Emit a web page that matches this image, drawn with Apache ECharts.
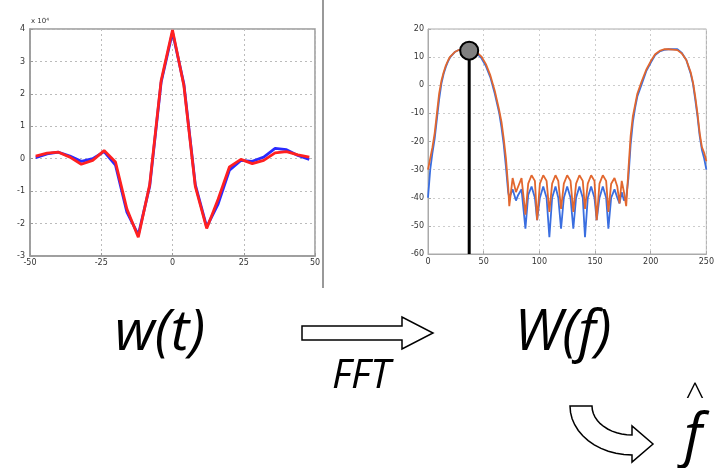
<!DOCTYPE html>
<html><head><meta charset="utf-8">
<script src="https://cdn.jsdelivr.net/npm/echarts@6/dist/echarts.min.js"></script>
<style>html,body{margin:0;padding:0;background:#fff}#c{width:717px;height:468px}</style>
</head><body><div id="c"></div>
<script>
// ---- time-domain window w(t) ----
const timeT = [-48,-44,-40,-36,-32,-28,-24,-20,-16,-12,-8,-4,0,4,8,12,16,20,24,28,32,36,40,44,48];
const wRed  = [0.08,0.17,0.2,0.05,-0.17,-0.05,0.25,-0.1,-1.55,-2.42,-0.8,2.4,3.97,2.25,-0.85,-2.15,-1.25,-0.25,-0.02,-0.15,-0.05,0.18,0.22,0.12,0.05];
const wBlue = [0.03,0.15,0.2,0.08,-0.08,0.0,0.22,-0.2,-1.65,-2.35,-0.85,2.35,3.9,2.3,-0.8,-2.1,-1.4,-0.35,-0.05,-0.08,0.05,0.32,0.28,0.1,-0.02];
const tTicks = [-50,-25,0,25,50];

// ---- spectrum W(f) in dB ----
const freq = [0,2,4,6,8,10,12,14,16,18,20,24,28,32,36,40,44,48,52,56,60,64,66,68,70,72,73,
  76,79,81,84,87.5,90,93,96,98,100.5,103.5,106.5,109,111.5,114.5,117,119.5,122,125,128,130.5,133,136,139,141,143.5,146.5,149.5,151.5,154,157,160,162,164.5,167.5,170,172,174,176,178,
  180,182,184,186,188,192,196,200,204,208,212,216,220,224,228,232,236,238,240,242,244,246,248,250];
const WRed = [-30,-26,-22,-17,-10,-3,1.5,4.5,7,8.8,10.2,11.8,12.6,12.8,12.8,12.5,11.7,10.2,7.5,3.5,-2,-9,-13,-19,-26,-36,-43,
  -33,-38,-36,-33,-46,-35,-32,-34,-48,-35,-32,-34,-45,-35,-32,-34,-44,-35,-32,-34,-45,-35,-32,-34,-44,-35,-32,-34,-48,-35,-32,-34,-45,-35,-33,-36,-42,-34,-38,-43,
  -30,-18,-11,-7,-3,1.5,5.5,8.5,11,12.2,12.8,12.8,12.7,12.5,11.3,9,4.5,1,-4,-10,-17,-22,-24,-27];
const WBlue = [-40,-30,-24,-19,-12,-5,0.5,4,6.5,8.5,10,11.8,12.6,12.8,12.8,12.3,11.3,9.6,6.8,2.8,-3,-10,-15,-21,-29,-38,-40,
  -37,-41,-39,-37,-51,-39,-36,-40,-48,-40,-36,-40,-54,-40,-36,-40,-51,-40,-36,-40,-51,-40,-36,-40,-54,-40,-36,-40,-48,-40,-36,-40,-51,-40,-37,-40,-42,-38,-41,-40,
  -33,-21,-13,-8,-4,0.5,5,8,10.7,12,12.6,12.8,12.8,12.8,11.5,9,4,0.5,-5,-11,-18,-23,-26,-30];
const fTicks = [0,50,100,150,200,250];
const markerF = 37, markerW = 12.3;

const pairs = (xs, ys) => xs.map((x, i) => [x, ys[i]]);

// decorative hollow arrows
const straightArrow = [[302,326],[402,326],[402,317],[433,333],[402,349],[402,340],[302,340]];
const curved = [];
for (let k = 0; k <= 12; k++) { const a = k / 12 * Math.PI / 2; curved.push([632 - 62 * Math.cos(a), 406 + 49 * Math.sin(a)]); }
curved.push([632, 462], [653, 444], [632, 426]);
for (let k = 12; k >= 0; k--) { const a = k / 12 * Math.PI / 2; curved.push([632 - 40 * Math.cos(a), 406 + 29 * Math.sin(a)]); }

const lbl = { fontSize: 8, color: '#333', fontFamily: 'DejaVu Sans' };
const chart = echarts.init(document.getElementById('c'), null, { renderer: 'canvas' });
chart.setOption({
  backgroundColor: '#fff',
  animation: false,
  grid: [
    { left: 30, top: 29, width: 285, height: 227, show: true, borderColor: '#999', borderWidth: 1.5, backgroundColor: 'transparent' },
    { left: 428, top: 29, width: 285, height: 225, show: true, borderColor: '#aaa', borderWidth: 1, backgroundColor: 'transparent' }
  ],
  xAxis: [
    { gridIndex: 0, type: 'value', min: -50, max: 50, interval: 25,
      axisLine: { onZero: false, lineStyle: { color: '#999', width: 1.5 } }, axisTick: { inside: true, length: 3, lineStyle: { color: '#999' } },
      axisLabel: Object.assign({ margin: 3, formatter: v => tTicks.includes(v) ? String(v) : '' }, lbl),
      splitLine: { show: true, lineStyle: { type: [2, 3], color: '#bbb' } } },
    { gridIndex: 1, type: 'value', min: 0, max: 250, interval: 50,
      axisLine: { onZero: false, lineStyle: { color: '#aaa' } }, axisTick: { inside: true, length: 3, lineStyle: { color: '#aaa' } },
      axisLabel: Object.assign({ margin: 4, formatter: v => fTicks.includes(v) ? String(v) : '' }, lbl),
      splitLine: { show: true, lineStyle: { type: [2, 3], color: '#ccc' } } }
  ],
  yAxis: [
    { gridIndex: 0, type: 'value', min: -3, max: 4, interval: 1,
      axisLine: { onZero: false, lineStyle: { color: '#999', width: 1.5 } }, axisTick: { inside: true, length: 3, lineStyle: { color: '#999' } },
      axisLabel: Object.assign({ margin: 5 }, lbl),
      splitLine: { show: true, lineStyle: { type: [2, 3], color: '#bbb' } } },
    { gridIndex: 1, type: 'value', min: -60, max: 20, interval: 10,
      axisLine: { onZero: false, lineStyle: { color: '#aaa' } }, axisTick: { inside: true, length: 3, lineStyle: { color: '#aaa' } },
      axisLabel: Object.assign({ margin: 4 }, lbl),
      splitLine: { show: true, lineStyle: { type: [2, 3], color: '#ccc' } } }
  ],
  series: [
    { type: 'line', xAxisIndex: 0, yAxisIndex: 0, data: pairs(timeT, wBlue), symbol: 'none', lineStyle: { color: '#2a2aff', width: 2.8 } },
    { type: 'line', xAxisIndex: 0, yAxisIndex: 0, data: pairs(timeT, wRed), symbol: 'none', lineStyle: { color: '#ff2020', width: 2.8 } },
    { type: 'line', xAxisIndex: 1, yAxisIndex: 1, data: pairs(freq, WBlue), symbol: 'none', lineStyle: { color: '#3a6ee0', width: 1.8 } },
    { type: 'line', xAxisIndex: 1, yAxisIndex: 1, data: pairs(freq, WRed), symbol: 'none', lineStyle: { color: '#e2672e', width: 1.8 } },
    { type: 'line', xAxisIndex: 1, yAxisIndex: 1, data: [[markerF, -60], [markerF, markerW]], symbol: 'none', lineStyle: { color: '#000', width: 3 }, z: 5 },
    { type: 'scatter', xAxisIndex: 1, yAxisIndex: 1, data: [[markerF, markerW]], symbolSize: 18, itemStyle: { color: '#808080', borderColor: '#000', borderWidth: 2, opacity: 1 }, z: 6 }
  ],
  graphic: [
    { type: 'line', shape: { x1: 323, y1: 0, x2: 323, y2: 288 }, style: { stroke: '#999', lineWidth: 2 } },
    { type: 'text', x: 31, y: 18, style: { text: 'x 10⁴', font: '7px "DejaVu Sans"', fill: '#333' } },
    { type: 'text', x: 160, y: 334, style: { text: 'w(t)', font: 'italic 400 56px "Open Sans"', fill: '#000', textAlign: 'center', textVerticalAlign: 'middle' } },
    { type: 'polygon', shape: { points: straightArrow }, style: { fill: '#fff', stroke: '#000', lineWidth: 1.5 } },
    { type: 'text', x: 361, y: 377, style: { text: 'FFT', font: 'italic 400 40px "Open Sans"', fill: '#000', textAlign: 'center', textVerticalAlign: 'middle' } },
    { type: 'text', x: 563, y: 334, style: { text: 'W(f)', font: 'italic 400 56px "Open Sans"', fill: '#000', textAlign: 'center', textVerticalAlign: 'middle' } },
    { type: 'polygon', shape: { points: curved }, style: { fill: '#fff', stroke: '#000', lineWidth: 1.5 } },
    { type: 'text', x: 693, y: 438, style: { text: 'f', font: 'italic 400 58px "Open Sans"', fill: '#000', textAlign: 'center', textVerticalAlign: 'middle' } },
    { type: 'text', x: 695, y: 398, style: { text: '^', font: '300 34px "Open Sans"', fill: '#000', textAlign: 'center', textVerticalAlign: 'middle' } }
  ]
});
</script></body></html>
